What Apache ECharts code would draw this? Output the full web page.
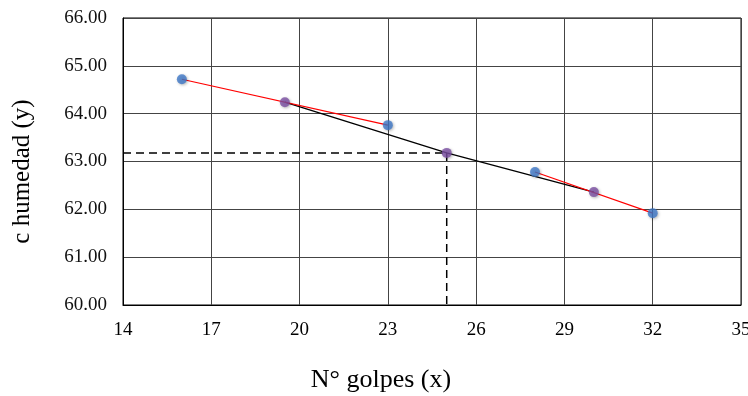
<!DOCTYPE html>
<html><head><meta charset="utf-8">
<script src="https://cdn.jsdelivr.net/npm/echarts@6/dist/echarts.min.js"></script>
<style>html,body{margin:0;padding:0;background:#fff}#c{width:748px;height:396px}</style>
</head><body><div id="c"></div>
<script>
const blueX = [16, 23, 28, 32];
const blueY = [64.72, 63.76, 62.78, 61.92];
const purpleX = [19.5, 25, 30];
const purpleY = [64.24, 63.18, 62.36];
const redSeg1 = [[16, 64.72], [23, 63.76]];
const redSeg2 = [[28, 62.78], [32, 61.92]];
const targetX = 25, targetY = 63.18;
const xTicks = [14, 17, 20, 23, 26, 29, 32, 35];
const yTicks = [60, 61, 62, 63, 64, 65, 66];

const chart = echarts.init(document.getElementById('c'));
const font = '"Liberation Serif", "Times New Roman", serif';
const mk = (xs, ys) => xs.map((x, i) => [x, ys[i]]);
chart.setOption({
  animation: false,
  grid: {left: 123, right: 7, top: 18, bottom: 91, show: true, borderColor: '#000', borderWidth: 1,
    containLabel: false, outerBoundsMode: 'none'},
  xAxis: {type: 'value', min: 14, max: 35, interval: 3,
    name: 'N° golpes (x)', nameLocation: 'middle', nameGap: 62,
    nameTextStyle: {fontFamily: font, fontSize: 26, color: '#000', padding: [0, 102, 0, 0]},
    axisLine: {show: true, lineStyle: {color: '#000'}}, axisTick: {show: false},
    axisLabel: {fontFamily: font, fontSize: 19, color: '#000', margin: 16},
    splitLine: {show: true, lineStyle: {color: '#444', width: 1}}},
  yAxis: {type: 'value', min: 60, max: 66, interval: 1,
    name: 'c humedad (y)', nameLocation: 'middle', nameGap: 88, nameRotate: 90,
    nameTextStyle: {fontFamily: font, fontSize: 25, color: '#000', padding: [0, 20, 0, 0]},
    axisLine: {show: true, lineStyle: {color: '#000'}}, axisTick: {show: false},
    axisLabel: {fontFamily: font, fontSize: 19, color: '#111', margin: 16, formatter: v => v.toFixed(2)},
    splitLine: {show: true, lineStyle: {color: '#444', width: 1}}},
  series: [
    {type: 'line', data: [[xTicks[0], targetY], [targetX, targetY]], symbol: 'none',
      lineStyle: {color: '#000', width: 1.5, type: [8, 5]}, z: 2},
    {type: 'line', data: [[targetX, targetY], [targetX, yTicks[0]]], symbol: 'none',
      lineStyle: {color: '#000', width: 1.5, type: [8, 5]}, z: 2},
    {type: 'line', data: mk(purpleX, purpleY), symbol: 'none',
      lineStyle: {color: '#000', width: 1.4}, z: 3},
    {type: 'line', data: redSeg1, symbol: 'none', lineStyle: {color: '#ff0000', width: 1.2}, z: 3},
    {type: 'line', data: redSeg2, symbol: 'none', lineStyle: {color: '#ff0000', width: 1.2}, z: 3},
    {type: 'scatter', data: mk(blueX, blueY), symbolSize: 10,
      itemStyle: {color: '#3f78c8', shadowColor: 'rgba(0,0,0,0.35)', shadowBlur: 3, shadowOffsetX: 1, shadowOffsetY: 1}, z: 5},
    {type: 'scatter', data: mk(purpleX, purpleY), symbolSize: 10,
      itemStyle: {color: '#7a4fa3', shadowColor: 'rgba(0,0,0,0.35)', shadowBlur: 3, shadowOffsetX: 1, shadowOffsetY: 1}, z: 5}
  ]
});
</script></body></html>
